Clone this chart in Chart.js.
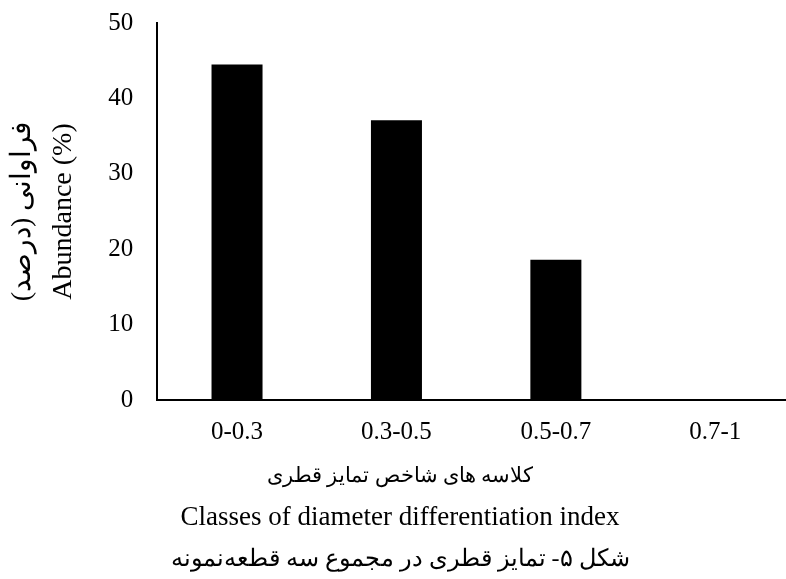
<!DOCTYPE html>
<html>
<head>
<meta charset="utf-8">
<script src="https://cdn.jsdelivr.net/npm/chart.js@4/dist/chart.umd.min.js"></script>
<style>
    html, body { margin: 0; padding: 0; background: #fff; overflow: hidden; }
    #wrap { position: relative; width: 800px; height: 579px; }
    .cap { position: absolute; left: 0; width: 800px; text-align: center; color: #000; line-height: 30px;
           font-family: 'Liberation Serif', 'DejaVu Serif', serif; white-space: nowrap; }
</style>
</head>
<body>
<div id="wrap">
    <canvas id="chart-abundance" width="800" height="579"></canvas>
    <div class="cap" dir="rtl" style="top:460px; font-size:21px;">کلاسه های شاخص تمایز قطری</div>
    <div class="cap" style="top:501px; font-size:27px;">Classes of diameter differentiation index</div>
    <div class="cap" dir="rtl" style="top:543px; font-size:24px;">شکل ۵- تمایز قطری در مجموع سه قطعه‌نمونه</div>
</div>
<script>
    var classLabels = ['0-0.3', '0.3-0.5', '0.5-0.7', '0.7-1'];
    var abundance = [44.5, 37.1, 18.6, 0];
    var yTicks = [0, 10, 20, 30, 40, 50];
    var yTitle = ['فراوانی (درصد)\u200F', 'Abundance (%)'];

    var serif = "'Liberation Serif', 'DejaVu Serif', serif";

    new Chart(document.getElementById('chart-abundance').getContext('2d'), {
        type: 'bar',
        data: {
            labels: classLabels,
            datasets: [{
                label: 'Abundance',
                backgroundColor: '#000',
                borderWidth: 0,
                data: abundance
            }]
        },
        options: {
            responsive: false,
            animation: false,
            layout: { padding: { left: 0, top: 23, right: 5, bottom: 115 } },
            plugins: { legend: { display: false }, tooltip: { enabled: false } },
            datasets: { bar: { categoryPercentage: 1, barPercentage: 0.32 } },
            scales: {
                x: {
                    grid: { display: false, drawTicks: false },
                    border: { display: true, color: '#000', width: 2 },
                    ticks: { color: '#000', padding: 17, font: { family: serif, size: 25 } }
                },
                y: {
                    min: 0,
                    max: 50,
                    afterBuildTicks: function(axis) {
                        axis.ticks = yTicks.map(function(v) { return { value: v } })
                    },
                    // tick padding should only push labels sideways, not down from the top
                    afterFit: function(axis) {
                        axis.paddingTop = 0
                        axis.paddingBottom = 0
                    },
                    grid: { display: false, drawTicks: false },
                    border: { display: true, color: '#000', width: 2 },
                    ticks: { color: '#000', padding: 24, font: { family: serif, size: 25 } },
                    title: {
                        display: true,
                        text: yTitle,
                        color: '#000',
                        font: { family: serif, size: 28, lineHeight: 1.47 },
                        padding: { top: 2, bottom: 0 }
                    }
                }
            }
        }
    })
</script>
</body>
</html>
